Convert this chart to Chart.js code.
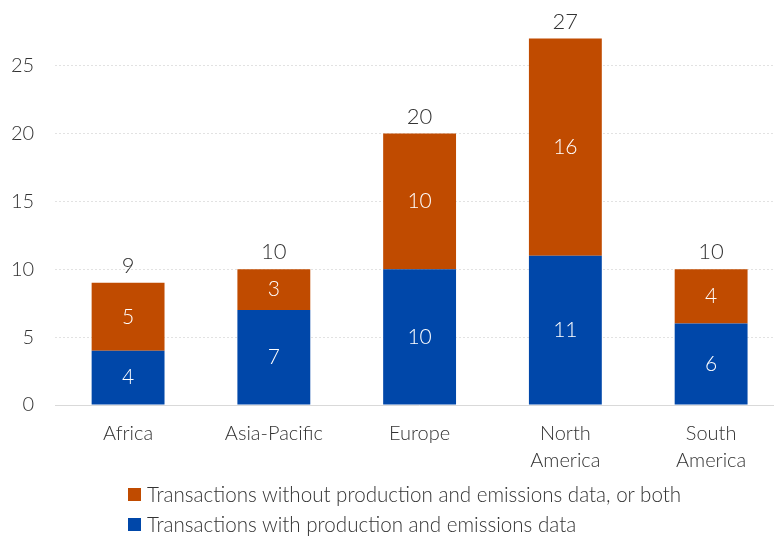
<!DOCTYPE html>
<html>
<head>
<meta charset="utf-8">
<script src="https://cdn.jsdelivr.net/npm/chart.js@4/dist/chart.umd.min.js"></script>
<style>
  html, body { margin: 0; padding: 0; background: #fff; overflow: hidden; }
  #wrap { position: relative; width: 784px; height: 536px; }
  #chartBox { position: absolute; left: 0; top: 0; width: 784px; height: 481px; }
  #legend { position: absolute; left: 128px; top: 479px; font-family: Lato, sans-serif; font-weight: 300; font-size: 20.6px; color: #333; }
  #legend div { display: flex; align-items: center; height: 30px; }
  #legend span.box { display: inline-block; width: 13px; height: 13px; margin-right: 6px; }
</style>
</head>
<body>
<div id="wrap">
  <div id="chartBox"><canvas id="js-bar-chart"></canvas></div>
  <div id="legend"></div>
</div>
<script>
"use strict";
{
  // データ
  const REGIONS = ["Africa", "Asia-Pacific", "Europe", ["North", "America"], ["South", "America"]];
  const WITH_DATA = [4, 7, 10, 11, 6];
  const WITHOUT_DATA = [5, 3, 10, 16, 4];
  const Y_TICKS = [0, 5, 10, 15, 20, 25];

  const BLUE = "#0047a9";
  const ORANGE = "#c04b00";
  const FONT = "Lato, sans-serif";

  // 棒の中と上に数字を書く
  const valueLabels = {
    id: "valueLabels",
    afterDatasetsDraw(chart) {
      const ctx = chart.ctx;
      ctx.save();
      ctx.textAlign = "center";
      ctx.textBaseline = "middle";
      chart.data.datasets.forEach((ds, i) => {
        const meta = chart.getDatasetMeta(i);
        meta.data.forEach((bar, j) => {
          const p = bar.getCenterPoint();
          ctx.fillStyle = "#fff";
          ctx.font = "300 21px " + FONT;
          ctx.fillText(ds.data[j], p.x, p.y);
        });
      });
      const topMeta = chart.getDatasetMeta(chart.data.datasets.length - 1);
      topMeta.data.forEach((bar, j) => {
        const total = WITH_DATA[j] + WITHOUT_DATA[j];
        ctx.fillStyle = "#333";
        ctx.font = "300 22px " + FONT;
        ctx.textBaseline = "alphabetic";
        ctx.fillText(total, bar.x, bar.y - 10);
      });
      ctx.restore();
    },
  };

  const bar_ctx = document.getElementById("js-bar-chart").getContext("2d");
  const barChart = new Chart(bar_ctx, {
    type: "bar",
    data: {
      labels: REGIONS,
      datasets: [
        {
          label: "Transactions with production and emissions data",
          data: WITH_DATA,
          backgroundColor: BLUE,
        },
        {
          label: "Transactions without production and emissions data, or both",
          data: WITHOUT_DATA,
          backgroundColor: ORANGE,
        },
      ],
    },
    options: {
      responsive: true,
      maintainAspectRatio: false,
      animation: false,
      layout: { padding: { top: 25, left: -10, right: 0, bottom: 0 } },
      datasets: { bar: { categoryPercentage: 1, barPercentage: 0.5 } },
      scales: {
        x: {
          stacked: true,
          grid: { display: false },
          border: { display: false },
          ticks: {
            color: "#333",
            font: { family: FONT, size: 20, weight: "300", lineHeight: 1.35 },
            padding: 7,
            maxRotation: 0,
          },
        },
        y: {
          stacked: true,
          min: 0,
          max: 28,
          afterBuildTicks: (axis) => {
            axis.ticks = Y_TICKS.map((v) => ({ value: v }));
          },
          afterFit: (axis) => {
            // 上の余白はlayout.paddingで決める
            axis.paddingTop = 0;
            axis.paddingBottom = 0;
          },
          grid: {
            drawTicks: false,
            color: (c) => (c.tick && c.tick.value === 0 ? "#d9d9d9" : "#e2e2e2"),
          },
          border: {
            display: false,
            dash: (c) => (c.tick && c.tick.value === 0 ? [] : [2, 2]),
          },
          ticks: {
            color: "#333",
            font: { family: FONT, size: 20, weight: "300" },
            padding: 21,
          },
        },
      },
      plugins: {
        legend: { display: false },
        tooltip: { enabled: false },
      },
    },
    plugins: [valueLabels],
  });

  // 凡例（上に積んだ順）
  const legendEl = document.getElementById("legend");
  barChart.data.datasets.slice().reverse().forEach((ds) => {
    const row = document.createElement("div");
    const box = document.createElement("span");
    box.className = "box";
    box.style.background = ds.backgroundColor;
    row.appendChild(box);
    row.appendChild(document.createTextNode(ds.label));
    legendEl.appendChild(row);
  });
}
</script>
</body>
</html>
